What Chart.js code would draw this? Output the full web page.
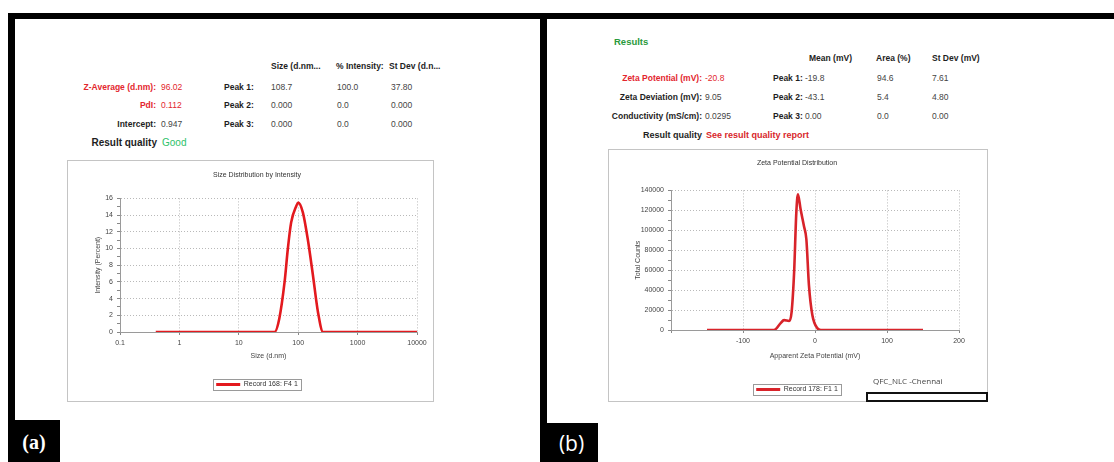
<!DOCTYPE html>
<html>
<head>
<meta charset="utf-8">
<script src="https://cdn.jsdelivr.net/npm/chart.js@4.4.0/dist/chart.umd.min.js"></script>
<style>
  body { margin: 0; width: 1114px; height: 462px; background: #fff; position: relative; overflow: hidden;
         font-family: "Liberation Sans", Arial, sans-serif; }
  .bar { position: absolute; background: #000; }
  .tag { position: absolute; background: #000; color: #fff; display: flex; align-items: center; justify-content: center; }
  .t { position: absolute; white-space: nowrap; font-size: 8.5px; line-height: 10px; color: #444; transform: translateY(-50%); }
  .rt { transform: translate(-100%, -50%); }
  .b { font-weight: bold; color: #1e1e1e; }
  .red { color: #e3262d; }
  .grn { color: #2ec26a; }
  .q { font-size: 10px; }
  .frame { position: absolute; border: 1px solid #c4c4c4; background: #fff; }
  .holder { position: absolute; }
</style>
</head>
<body>

<!-- black framing -->
<div class="bar" style="left:8px;top:13px;width:1106px;height:6px"></div>
<div class="bar" style="left:8px;top:13px;width:7px;height:449px"></div>
<div class="bar" style="left:540px;top:13px;width:7px;height:449px"></div>
<div class="tag" style="left:8px;top:420px;width:52px;height:42px;font-size:20px;font-weight:600;font-family:'Liberation Serif','DejaVu Serif',serif;padding-top:2px;box-sizing:border-box">(a)</div>
<div class="tag" style="left:540px;top:423px;width:58px;height:39px;font-size:21px;font-family:'Open Sans',sans-serif;padding-left:5px;box-sizing:border-box">(b)</div>

<!-- size results table -->
<div class="t b" style="left:271px;top:66px">Size (d.nm...</div>
<div class="t b" style="left:336px;top:66px">% Intensity:</div>
<div class="t b" style="left:389px;top:66px">St Dev (d.n...</div>

<div class="t b red rt" style="left:156px;top:87px">Z-Average (d.nm):</div>
<div class="t red" style="left:161px;top:87px">96.02</div>
<div class="t b" style="left:224px;top:87px">Peak 1:</div>
<div class="t" style="left:271px;top:87px">108.7</div>
<div class="t" style="left:337px;top:87px">100.0</div>
<div class="t" style="left:391px;top:87px">37.80</div>

<div class="t b red rt" style="left:156px;top:105px">PdI:</div>
<div class="t red" style="left:161px;top:105px">0.112</div>
<div class="t b" style="left:224px;top:105px">Peak 2:</div>
<div class="t" style="left:271px;top:105px">0.000</div>
<div class="t" style="left:337px;top:105px">0.0</div>
<div class="t" style="left:391px;top:105px">0.000</div>

<div class="t b rt" style="left:156px;top:124px">Intercept:</div>
<div class="t" style="left:161px;top:124px">0.947</div>
<div class="t b" style="left:224px;top:124px">Peak 3:</div>
<div class="t" style="left:271px;top:124px">0.000</div>
<div class="t" style="left:337px;top:124px">0.0</div>
<div class="t" style="left:391px;top:124px">0.000</div>

<div class="t b q rt" style="left:157px;top:143px">Result quality</div>
<div class="t q grn" style="left:162px;top:143px">Good</div>

<!-- zeta results table -->
<div class="t b" style="left:614px;top:42px;color:#2a9a3c;font-size:9.5px">Results</div>
<div class="t b" style="left:809px;top:58px">Mean (mV)</div>
<div class="t b" style="left:876px;top:58px">Area (%)</div>
<div class="t b" style="left:932px;top:58px">St Dev (mV)</div>

<div class="t b red rt" style="left:702px;top:78px">Zeta Potential (mV):</div>
<div class="t red" style="left:705px;top:78px">-20.8</div>
<div class="t b" style="left:773px;top:78px">Peak 1:</div>
<div class="t" style="left:805px;top:78px">-19.8</div>
<div class="t" style="left:877px;top:78px">94.6</div>
<div class="t" style="left:932px;top:78px">7.61</div>

<div class="t b rt" style="left:702px;top:97px">Zeta Deviation (mV):</div>
<div class="t" style="left:705px;top:97px">9.05</div>
<div class="t b" style="left:773px;top:97px">Peak 2:</div>
<div class="t" style="left:805px;top:97px">-43.1</div>
<div class="t" style="left:877px;top:97px">5.4</div>
<div class="t" style="left:932px;top:97px">4.80</div>

<div class="t b rt" style="left:702px;top:116px">Conductivity (mS/cm):</div>
<div class="t" style="left:705px;top:116px">0.0295</div>
<div class="t b" style="left:773px;top:116px">Peak 3:</div>
<div class="t" style="left:805px;top:116px">0.00</div>
<div class="t" style="left:877px;top:116px">0.0</div>
<div class="t" style="left:932px;top:116px">0.00</div>

<div class="t b rt" style="left:702px;top:135px;font-size:9px">Result quality</div>
<div class="t b red" style="left:706px;top:135px;font-size:9px;color:#d8262b">See result quality report</div>

<!-- chart frames and chart holders -->
<div class="frame" style="left:67px;top:160px;width:365px;height:240px"></div>
<div class="frame" style="left:608px;top:149px;width:378px;height:251px"></div>
<div class="holder" style="left:68px;top:161px;width:365px;height:237px"><canvas id="sizeChart"></canvas></div>
<div class="holder" style="left:609px;top:150px;width:378px;height:253px"><canvas id="zetaChart"></canvas></div>

<div class="t" style="left:873px;top:380px;font:8px 'Open Sans',sans-serif;color:#444">QFC_NLC -Chennai</div>
<div style="position:absolute;left:866px;top:392px;width:118px;height:6px;border:2px solid #111;background:#fff"></div>

<script>
// Size distribution (intensity %) vs hydrodynamic diameter
const sizeNm = [0.4, 1, 10, 30, 40, 48, 59, 67, 76, 93, 100, 120, 145, 177, 215, 262, 300, 1000, 10000];
const intensityPct = [0, 0, 0, 0, 0, 1.6, 6.0, 10.0, 13.1, 15.1, 15.5, 14.3, 11.1, 6.8, 2.4, 0, 0, 0, 0];
const sizeTicks = [0.1, 1, 10, 100, 1000, 10000];

// Zeta potential distribution (total counts) vs apparent zeta potential
const zetaMv = [-150, -57, -48, -43, -36, -32.5, -29, -26, -23.7, -20, -15.3, -12, -8.4, -3.7, 3.3, 8, 150];
const zetaCounts = [0, 0, 6600, 9900, 9000, 18000, 58000, 117000, 136000, 121000, 104000, 91000, 44700, 15000, 1700, 0, 0];

const lineRed = '#e3191e';
const zetaRed = '#d8232a';
const gridGray = '#b9b9b9';

Chart.defaults.font.family = '"Liberation Sans", Arial, sans-serif';
Chart.defaults.font.size = 7;
Chart.defaults.color = '#444';
Chart.defaults.animation = false;

// thin box around the legend entry
const legendFrame = {
    id: 'legendFrame',
    afterDraw(chart) {
        const lg = chart.legend;
        if (!lg || !lg.legendHitBoxes || !lg.legendHitBoxes.length) return;
        const hb = lg.legendHitBoxes[0];
        const ctx = chart.ctx;
        ctx.save();
        ctx.strokeStyle = '#9a9a9a';
        ctx.lineWidth = 1;
        ctx.strokeRect(Math.round(hb.left - 3) + 0.5, Math.round(hb.top - 2) + 0.5,
                       Math.round(hb.width + 6), Math.round(hb.height + 4));
        ctx.restore();
    }
};

function legendOpts(color) {
    return {
        position: 'bottom',
        labels: {
            boxWidth: 24,
            boxHeight: 3,
            padding: 6,
            color: '#333',
            generateLabels: chart => Chart.defaults.plugins.legend.labels.generateLabels(chart)
                .map(l => ({ ...l, lineWidth: 0, fillStyle: color }))
        }
    };
}

// dotted grid on the labelled ticks only; every tick keeps its small mark
function axisGrid(major) {
    return {
        grid: {
            color: ctx => (major(ctx.tick.value) ? gridGray : 'rgba(0,0,0,0)'),
            lineWidth: 1, tickLength: 3, tickColor: '#888', tickBorderDash: []
        },
        border: { display: true, color: '#9a9a9a', width: 1, dash: [1, 2] }
    };
}

new Chart(document.getElementById('sizeChart'), {
    type: 'line',
    data: {
        datasets: [{
            label: 'Record 168: F4 1',
            data: sizeNm.map((x, i) => ({ x, y: intensityPct[i] })),
            borderColor: lineRed,
            backgroundColor: lineRed,
            borderWidth: 2.6,
            pointRadius: 0,
            cubicInterpolationMode: 'monotone'
        }]
    },
    options: {
        responsive: true,
        maintainAspectRatio: false,
        layout: { padding: { left: 29, right: 16, top: 0, bottom: 0 } },
        plugins: {
            title: { display: true, text: 'Size Distribution by Intensity', color: '#333',
                     font: { size: 7, weight: 'normal' }, padding: { top: 10, bottom: 19 } },
            legend: legendOpts(lineRed),
            tooltip: { enabled: false }
        },
        scales: {
            x: {
                type: 'logarithmic', min: 0.1, max: 10000,
                afterBuildTicks: s => { s.ticks = sizeTicks.map(v => ({ value: v })); },
                afterFit: s => { s.height = 43; },
                ticks: { padding: 4, autoSkip: false, maxRotation: 0, callback: v => String(v) },
                title: { display: true, text: 'Size (d.nm)', padding: { top: 0, bottom: 14.8 } },
                ...axisGrid(() => true)
            },
            y: {
                min: 0, max: 16,
                afterFit: s => { s.width = 23; },
                ticks: { stepSize: 1, padding: 4, autoSkip: false, callback: v => (v % 2 === 0 ? String(v) : '') },
                title: { display: true, text: 'Intensity (Percent)', padding: { top: -3, bottom: 0 } },
                ...axisGrid(v => v % 2 === 0)
            }
        }
    },
    plugins: [legendFrame]
});

new Chart(document.getElementById('zetaChart'), {
    type: 'line',
    data: {
        datasets: [{
            label: 'Record 178: F1 1',
            data: zetaMv.map((x, i) => ({ x, y: zetaCounts[i] })),
            borderColor: zetaRed,
            backgroundColor: zetaRed,
            borderWidth: 2.6,
            pointRadius: 0,
            cubicInterpolationMode: 'monotone'
        }]
    },
    options: {
        responsive: true,
        maintainAspectRatio: false,
        layout: { padding: { left: 26, right: 28, top: 0, bottom: 0 } },
        plugins: {
            title: { display: true, text: 'Zeta Potential Distribution', color: '#333',
                     font: { size: 7, weight: 'normal' }, padding: { top: 9, bottom: 23 } },
            legend: legendOpts(zetaRed),
            tooltip: { enabled: false }
        },
        scales: {
            x: {
                type: 'linear', min: -200, max: 200,
                afterFit: s => { s.height = 50; },
                ticks: { stepSize: 100, padding: 4, maxRotation: 0, callback: v => (v === -200 ? '' : String(v)) },
                title: { display: true, text: 'Apparent Zeta Potential (mV)', padding: { top: 0, bottom: 19.8 } },
                ...axisGrid(() => true)
            },
            y: {
                min: 0, max: 140000,
                afterFit: s => { s.width = 36; },
                ticks: { stepSize: 10000, padding: 4, autoSkip: false, callback: v => (v % 20000 === 0 ? String(v) : '') },
                title: { display: true, text: 'Total Counts', padding: { top: -1, bottom: 0 } },
                ...axisGrid(v => v % 20000 === 0)
            }
        }
    },
    plugins: [legendFrame]
});
</script>
</body>
</html>
